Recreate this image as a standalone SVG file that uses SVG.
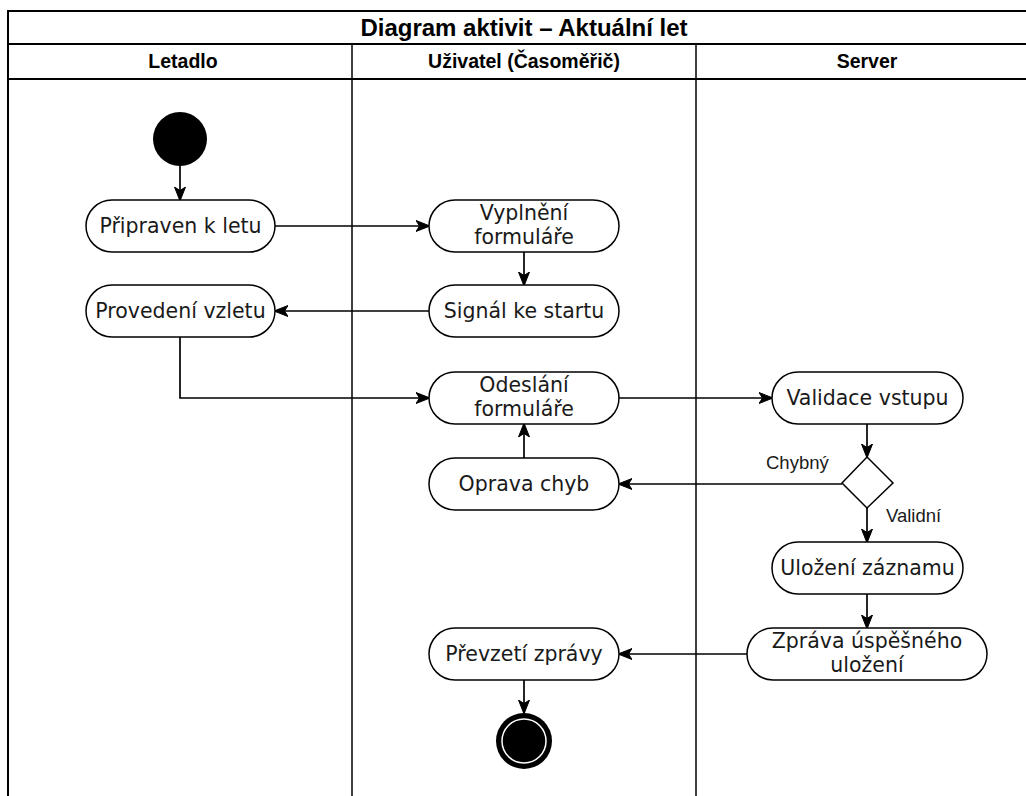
<svg xmlns="http://www.w3.org/2000/svg" width="1026" height="796" viewBox="0 0 1026 796">
<style>
.frame{fill:none;stroke:#000;stroke-width:2}
.lane{fill:none;stroke:#000;stroke-width:1.5}
.hdr{font-family:"Liberation Sans",Arial,sans-serif;font-weight:bold;font-size:19.5px;fill:#000;text-anchor:middle}
.title{font-family:"Liberation Sans",Arial,sans-serif;font-weight:bold;font-size:24px;fill:#000;text-anchor:middle}
.act{fill:#fff;stroke:#000;stroke-width:1.5}
.t{font-family:"DejaVu Sans",sans-serif;font-size:20.5px;fill:#1a1a1a;text-anchor:middle}
.lbl{font-family:"Liberation Sans",Arial,sans-serif;font-size:18.5px;fill:#1a1a1a}
.edge{fill:none;stroke:#000;stroke-width:1.7;marker-end:url(#arr)}
</style>
<defs>
<marker id="arr" viewBox="0 0 14 14" refX="13" refY="7" markerWidth="14" markerHeight="14" markerUnits="userSpaceOnUse" orient="auto">
<path d="M0,1.5 L14,7 L0,12.5 L3.5,7 z" fill="#000" stroke="#000" stroke-width="1"/>
</marker>
</defs>
<rect width="1026" height="796" fill="#fff"/>
<g id="pool">
<line class="frame" x1="8" y1="11" x2="1040" y2="11"/>
<line class="frame" x1="8" y1="44" x2="1040" y2="44"/>
<line class="frame" x1="8" y1="79" x2="1040" y2="79"/>
<line class="frame" x1="8" y1="10" x2="8" y2="796"/>
<line class="lane" x1="352" y1="44" x2="352" y2="796"/>
<line class="lane" x1="696" y1="44" x2="696" y2="796"/>
<text class="title" x="524" y="36">Diagram aktivit – Aktuální let</text>
<text class="hdr" x="183" y="68">Letadlo</text>
<text class="hdr" x="524" y="68">Uživatel (Časoměřič)</text>
<text class="hdr" x="867" y="68">Server</text>
</g>
<g id="connectors">
<line class="edge" x1="180" y1="166" x2="180" y2="200"/>
<line class="edge" x1="275" y1="226" x2="429" y2="226"/>
<line class="edge" x1="524" y1="252" x2="524" y2="285"/>
<line class="edge" x1="429" y1="311" x2="275" y2="311"/>
<polyline class="edge" points="180,337 180,398 429,398"/>
<line class="edge" x1="619" y1="398" x2="772" y2="398"/>
<line class="edge" x1="867" y1="424" x2="867" y2="457"/>
<line class="edge" x1="842" y1="484" x2="619" y2="484"/>
<line class="edge" x1="524" y1="458" x2="524" y2="424"/>
<line class="edge" x1="867" y1="508" x2="867" y2="542"/>
<line class="edge" x1="867" y1="594" x2="867" y2="628"/>
<line class="edge" x1="747" y1="654" x2="619" y2="654"/>
<line class="edge" x1="524" y1="680" x2="524" y2="713"/>
<text class="lbl" x="766" y="469">Chybný</text>
<text class="lbl" x="886" y="522">Validní</text>
</g>
<g id="start"><circle cx="180" cy="139" r="27" fill="#000"/></g>
<g id="pripraven"><rect class="act" x="86" y="200" width="189" height="52" rx="26"/><text class="t" x="180.5" y="233">Připraven k letu</text></g>
<g id="provedeni"><rect class="act" x="86" y="285" width="189" height="52" rx="26"/><text class="t" x="180.5" y="318">Provedení vzletu</text></g>
<g id="vyplneni"><rect class="act" x="429" y="200" width="190" height="52" rx="26"/><text class="t" x="524" y="220">Vyplnění</text><text class="t" x="524" y="244">formuláře</text></g>
<g id="signal"><rect class="act" x="429" y="285" width="190" height="52" rx="26"/><text class="t" x="524" y="318">Signál ke startu</text></g>
<g id="odeslani"><rect class="act" x="429" y="372" width="190" height="52" rx="26"/><text class="t" x="524" y="392">Odeslání</text><text class="t" x="524" y="416">formuláře</text></g>
<g id="oprava"><rect class="act" x="429" y="458" width="190" height="52" rx="26"/><text class="t" x="524" y="491">Oprava chyb</text></g>
<g id="validace"><rect class="act" x="772" y="372" width="191" height="52" rx="26"/><text class="t" x="867.5" y="405">Validace vstupu</text></g>
<g id="decision"><polygon class="act" points="867,457 893,483 867,508 842,483"/></g>
<g id="ulozeni"><rect class="act" x="772" y="542" width="191" height="52" rx="26"/><text class="t" x="867.5" y="575">Uložení záznamu</text></g>
<g id="zprava"><rect class="act" x="747" y="628" width="240" height="52" rx="26"/><text class="t" x="867" y="648">Zpráva úspěšného</text><text class="t" x="867" y="672">uložení</text></g>
<g id="prevzeti"><rect class="act" x="429" y="628" width="190" height="52" rx="26"/><text class="t" x="524" y="661">Převzetí zprávy</text></g>
<g id="end"><circle cx="524" cy="741" r="28" fill="#000"/><circle cx="524" cy="741" r="22" fill="none" stroke="#fff" stroke-width="1.5"/></g>
</svg>
